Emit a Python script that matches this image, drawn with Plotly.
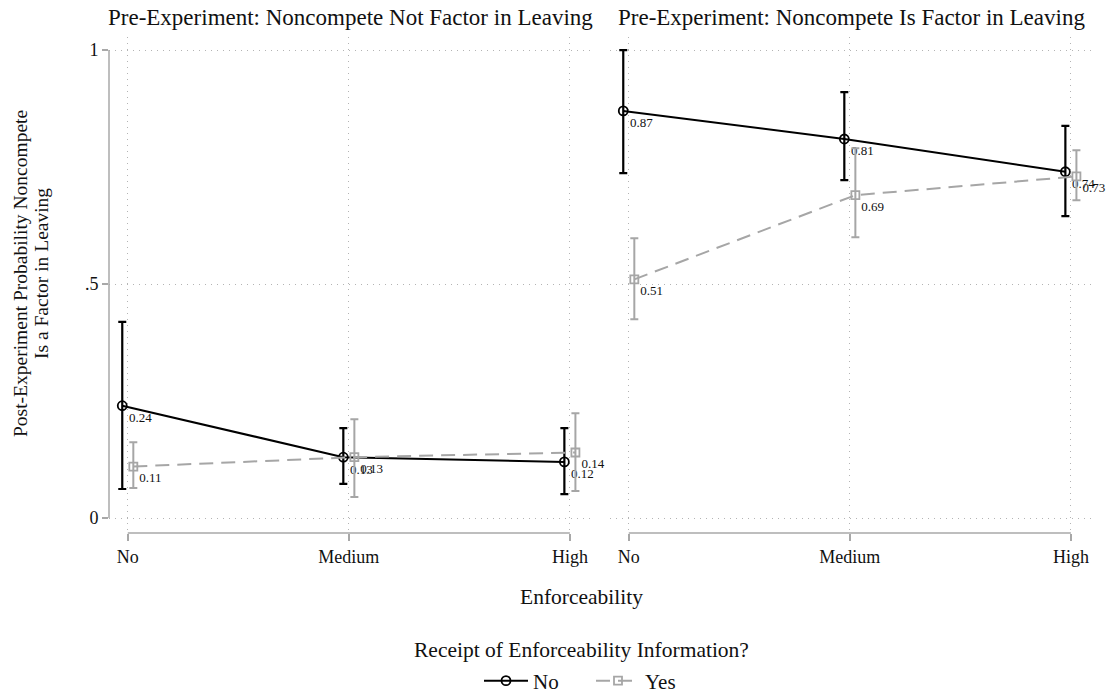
import plotly.graph_objects as go

# Enforceability levels on the x axis
categories = ["No", "Medium", "High"]
panel_titles = [
    "Pre-Experiment: Noncompete Not Factor in Leaving",
    "Pre-Experiment: Noncompete Is Factor in Leaving",
]
series_names = ["No", "Yes"]

# Panel 1: noncompete not a factor pre-experiment
no_info_not_factor = [0.24, 0.13, 0.12]
no_info_not_factor_lo = [0.062, 0.073, 0.051]
no_info_not_factor_hi = [0.419, 0.192, 0.192]
info_not_factor = [0.11, 0.13, 0.14]
info_not_factor_lo = [0.064, 0.045, 0.058]
info_not_factor_hi = [0.162, 0.211, 0.224]

# Panel 2: noncompete is a factor pre-experiment
no_info_factor = [0.87, 0.81, 0.74]
no_info_factor_lo = [0.737, 0.722, 0.645]
no_info_factor_hi = [1.0, 0.910, 0.838]
info_factor = [0.51, 0.69, 0.73]
info_factor_lo = [0.425, 0.600, 0.679]
info_factor_hi = [0.598, 0.790, 0.786]

W, H = 1109, 695
PLOT_TOP, PLOT_BOTTOM = 37, 533
SERIF = "Liberation Serif"
TEXT = "#111111"
BLACK = "#000000"
GRAY = "#a6a6a6"
AXIS_GRAY = "#a8a8a8"
GRID = "#b4b4b4"


def paper_y(px):
    return (PLOT_BOTTOM - px) / (PLOT_BOTTOM - PLOT_TOP)


def paper_x(px):
    return px / W


panels = [
    dict(xa="x", ya="y",
         series=[(no_info_not_factor, no_info_not_factor_lo, no_info_not_factor_hi),
                 (info_not_factor, info_not_factor_lo, info_not_factor_hi)]),
    dict(xa="x2", ya="y2",
         series=[(no_info_factor, no_info_factor_lo, no_info_factor_hi),
                 (info_factor, info_factor_lo, info_factor_hi)]),
]

styles = [
    dict(color=BLACK, dash="solid", symbol="circle-open", offset=-0.025, lw=2.0, ew=2.2, ms=9),
    dict(color=GRAY, dash="14px,8px", symbol="square-open", offset=0.025, lw=2.0, ew=2.0, ms=8),
]

fig = go.Figure()
for p_idx, panel in enumerate(panels):
    for s_idx, (vals, lo, hi) in enumerate(panel["series"]):
        st = styles[s_idx]
        xs = [i + st["offset"] for i in range(len(categories))]
        fig.add_trace(go.Scatter(
            x=xs, y=vals,
            xaxis=panel["xa"], yaxis=panel["ya"],
            mode="lines+markers+text",
            name=series_names[s_idx],
            legendgroup=series_names[s_idx],
            showlegend=(p_idx == 0),
            line=dict(color=st["color"], width=st["lw"], dash=st["dash"]),
            marker=dict(symbol=st["symbol"], size=st["ms"], color=st["color"],
                        line=dict(color=st["color"], width=1.8)),
            error_y=dict(type="data", symmetric=False,
                         array=[h - v for h, v in zip(hi, vals)],
                         arrayminus=[v - l for v, l in zip(vals, lo)],
                         color=st["color"], thickness=st["ew"], width=4),
            text=[f"{v:.2f}" for v in vals],
            textposition="bottom right",
            textfont=dict(family=SERIF, size=13, color=TEXT),
            cliponaxis=False,
        ))

x_range = [-0.085, 2.1]
left_dom = [paper_x(109), paper_x(592)]
right_dom = [paper_x(610), paper_x(1093)]
y_range = [-0.032, 1.028]

xaxis_common = dict(
    range=x_range, tickvals=[0, 1, 2], ticktext=categories,
    showgrid=True, gridcolor=GRID, griddash="1px,5px", gridwidth=1,
    zeroline=False, showline=False,
    ticks="outside", ticklen=7, tickwidth=1.5, tickcolor=AXIS_GRAY,
    tickfont=dict(family=SERIF, size=18, color=TEXT),
)
yaxis_common = dict(
    range=y_range, tickvals=[0, 0.5, 1], ticktext=["0", ".5", "1"],
    showgrid=True, gridcolor=GRID, griddash="1px,5px", gridwidth=1,
    zeroline=False, showline=False,
    tickfont=dict(family=SERIF, size=18, color=TEXT),
    domain=[0, 1],
)

fig.update_layout(
    width=W, height=H,
    margin=dict(l=0, r=0, t=PLOT_TOP, b=H - PLOT_BOTTOM, autoexpand=False),
    paper_bgcolor="white", plot_bgcolor="white",
    font=dict(family=SERIF, color=TEXT),
    xaxis={**xaxis_common, "domain": left_dom, "anchor": "y"},
    xaxis2={**xaxis_common, "domain": right_dom, "anchor": "y2"},
    yaxis={**yaxis_common, "anchor": "x", "ticks": "outside", "ticklen": 6,
           "tickwidth": 1.5, "tickcolor": AXIS_GRAY},
    yaxis2={**yaxis_common, "anchor": "x2", "showticklabels": False, "ticks": ""},
    legend=dict(orientation="h", x=paper_x(591), xanchor="center",
                y=paper_y(681), yanchor="middle",
                font=dict(family=SERIF, size=21, color=TEXT),
                bgcolor="rgba(0,0,0,0)", itemwidth=44,
                entrywidth=53, entrywidthmode="pixels"),
    showlegend=True,
)

# Stata-style axis lines spanning only the labelled range
fig.add_shape(type="line", xref="x domain", yref="y", x0=0, x1=0, y0=0, y1=1,
              line=dict(color=AXIS_GRAY, width=1.5))
fig.add_shape(type="line", xref="x", yref="y domain", x0=0, x1=2, y0=0, y1=0,
              line=dict(color=AXIS_GRAY, width=1.5))
fig.add_shape(type="line", xref="x2", yref="y2 domain", x0=0, x1=2, y0=0, y1=0,
              line=dict(color=AXIS_GRAY, width=1.5))

annotations = [
    dict(text=panel_titles[0], x=sum(left_dom) / 2, y=paper_y(18), size=23),
    dict(text=panel_titles[1], x=sum(right_dom) / 2, y=paper_y(18), size=23),
    dict(text="Enforceability", x=paper_x(581), y=paper_y(597), size=21.5),
    dict(text="Receipt of Enforceability Information?", x=paper_x(581),
         y=paper_y(650), size=21.5),
    dict(text="Post-Experiment Probability Noncompete", x=paper_x(20),
         y=paper_y(274), textangle=-90, size=19.5),
    dict(text="Is a Factor in Leaving", x=paper_x(41),
         y=paper_y(274), textangle=-90, size=19.5),
]
for a in annotations:
    size = a.pop("size")
    fig.add_annotation(xref="paper", yref="paper", showarrow=False,
                       xanchor="center", yanchor="middle",
                       font=dict(family=SERIF, color=TEXT, size=size), **a)

fig.write_html("out.html")
